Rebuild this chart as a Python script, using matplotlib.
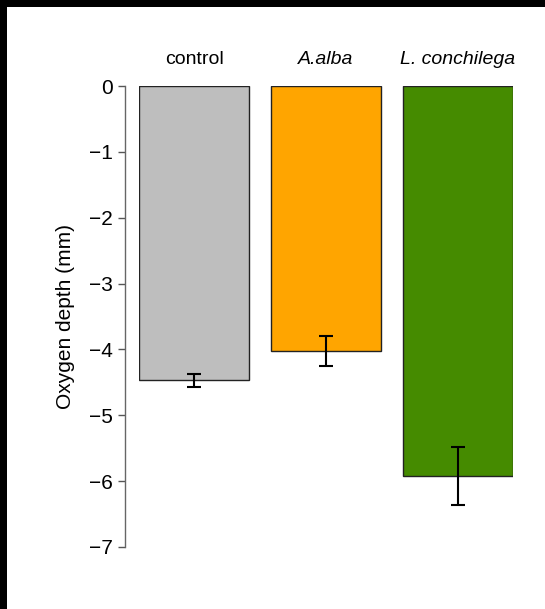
import matplotlib
matplotlib.use("Agg")
import matplotlib.pyplot as plt
from matplotlib.patches import Rectangle

# ---- data ----
categories = ["control", "A.alba", "L. conchilega"]
label_styles = ["normal", "italic", "italic"]
depth_mean = [-4.47, -4.02, -5.92]
depth_err = [0.10, 0.23, 0.44]
bar_colors = ["#BEBEBE", "#FFA500", "#458B00"]
yticks = [0, -1, -2, -3, -4, -5, -6, -7]
ylabel = "Oxygen depth (mm)"

plt.rcParams['font.family'] = ['Liberation Sans', 'DejaVu Sans']

W, H = 545, 609
dpi = 100
fig = plt.figure(figsize=(W / dpi, H / dpi), dpi=dpi)
fig.patch.set_facecolor("white")

# black border strips (top and left) like the reference crop
fig.patches.append(Rectangle((0, 1 - 7 / H), 1, 7 / H, transform=fig.transFigure,
                             facecolor="black", edgecolor="none", zorder=10))
fig.patches.append(Rectangle((0, 0), 7 / W, 1, transform=fig.transFigure,
                             facecolor="black", edgecolor="none", zorder=10))

left_px, right_px = 139, 513
top_px, bot_px = 86, 547
ax = fig.add_axes([left_px / W, (H - bot_px) / H, (right_px - left_px) / W, (bot_px - top_px) / H])

# R barplot geometry: width 1, space 0.2
centers = [0.7 + 1.2 * i for i in range(len(categories))]
ax.bar(centers, depth_mean, width=1.0, color=bar_colors, edgecolor="#222222", linewidth=1.0, zorder=2)
ax.errorbar(centers, depth_mean, yerr=depth_err, fmt="none", ecolor="black",
            elinewidth=1.5, capsize=4.7, capthick=1.5, zorder=3)

ax.set_xlim(0.2, 3.6)
ax.set_ylim(-7, 0)
for s in ["top", "right", "bottom"]:
    ax.spines[s].set_visible(False)
ax.spines["left"].set_position(("outward", 14 * 72 / dpi))
ax.spines["left"].set_color("#666666")
ax.spines["left"].set_linewidth(1.0)
ax.set_xticks([])
ax.set_yticks(yticks)
ax.set_yticklabels([("\u2212" + str(abs(v))) if v < 0 else str(v) for v in yticks])
ax.tick_params(axis="y", direction="out", length=4.7, width=1.0, color="#555555",
               pad=4.3, labelsize=15, labelcolor="black")
ax.patch.set_visible(False)

ax.set_ylabel(ylabel, fontsize=15)
ax.yaxis.set_label_coords((75 - left_px) / (right_px - left_px), 0.5)

for c, name, st in zip(centers, categories, label_styles):
    ax.annotate(name, xy=(c, 1.0), xycoords=("data", "axes fraction"),
                xytext=(0, 22 * 72 / dpi), textcoords="offset points",
                ha="center", va="baseline", fontsize=14, style=st)

fig.savefig("out.png", dpi=dpi)
